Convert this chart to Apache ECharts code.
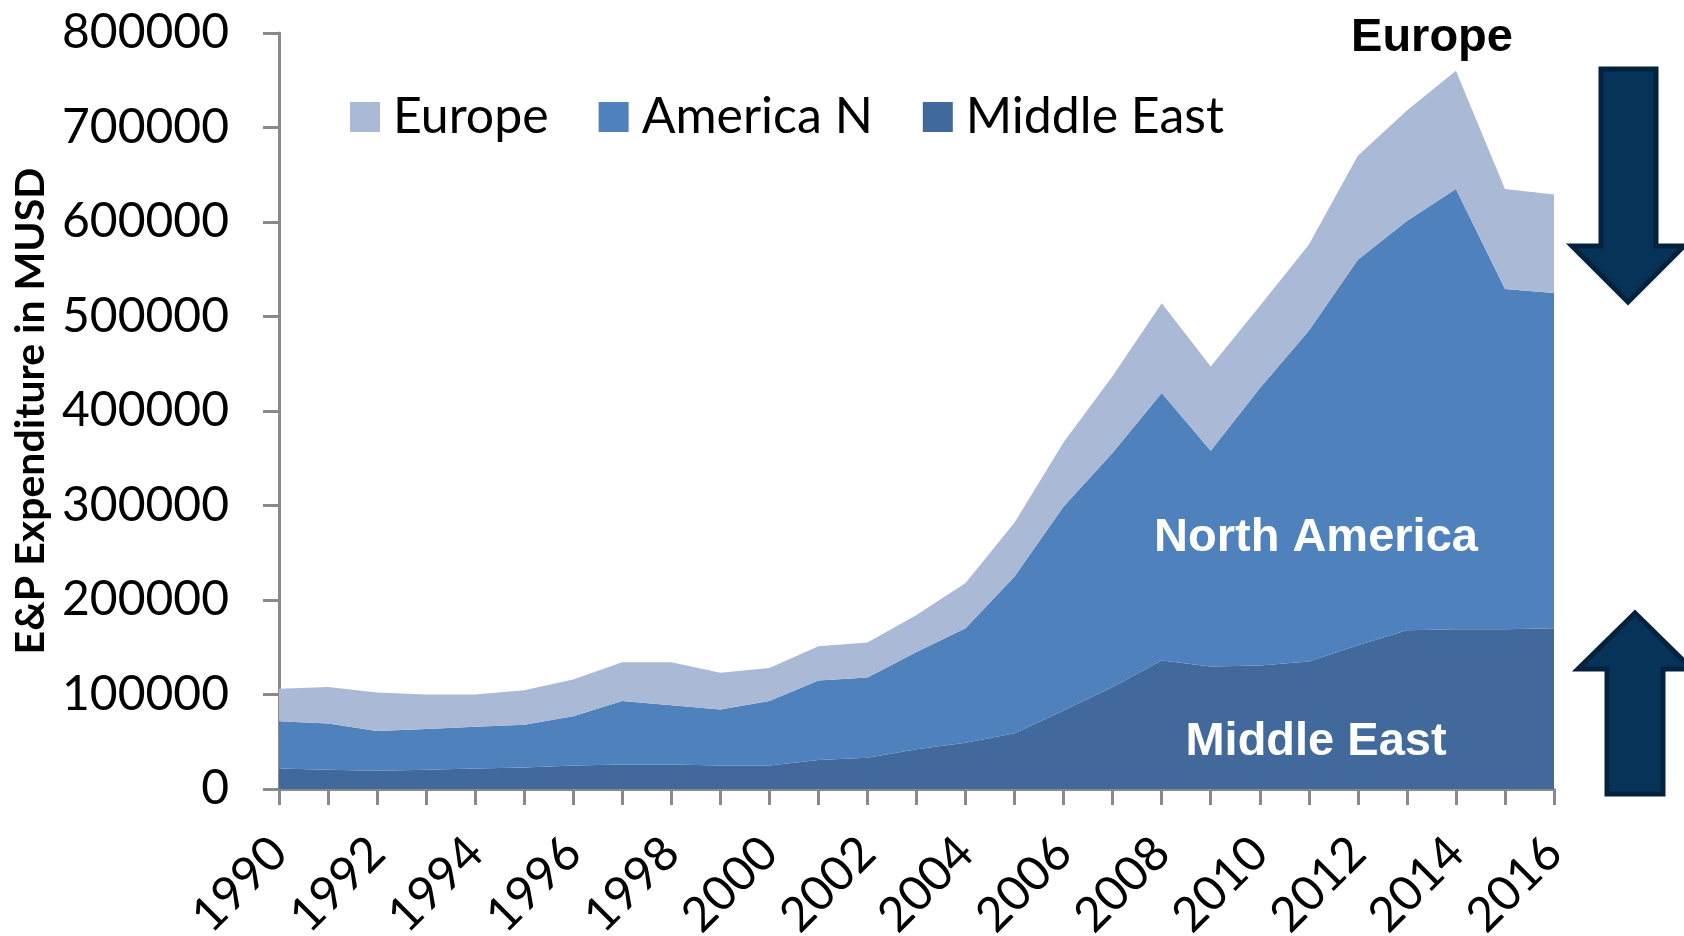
<!DOCTYPE html>
<html>
<head>
<meta charset="utf-8">
<script src="https://cdn.jsdelivr.net/npm/echarts@6/dist/echarts.min.js"></script>
<style>
html,body{margin:0;padding:0;background:#fff;}
#chart{width:1684px;height:936px;}
</style>
</head>
<body>
<div id="chart"></div>
<script>
const years = ['1990','1991','1992','1993','1994','1995','1996','1997','1998','1999','2000','2001','2002','2003','2004','2005','2006','2007','2008','2009','2010','2011','2012','2013','2014','2015','2016'];
const middleEast = [21600,20500,19300,20500,21600,22700,25000,26000,26000,25000,25000,30700,33000,42000,48900,59000,83000,108000,136000,129500,130700,135000,152000,168000,169000,169000,170000];
const americaN = [50000,48800,42100,43100,44400,45300,52000,67000,62600,59000,68000,84100,85000,103000,121100,166000,216000,247700,283000,228500,293300,350000,408000,433000,466000,360000,355000];
const europe = [34400,38700,40600,36400,34000,36500,39000,41000,45400,39000,35000,36200,37000,39000,48000,57000,68000,81300,95000,89000,87000,91000,110000,117000,125000,106000,104000];
const yTicks = [0,100000,200000,300000,400000,500000,600000,700000,800000];

const chart = echarts.init(document.getElementById('chart'), null, {renderer:'canvas'});
const axisGray = '#898989';
const mkSeries = (name, data, color) => ({
  name, type:'line', stack:'total', data,
  showSymbol:false, symbol:'none',
  lineStyle:{width:0},
  areaStyle:{color, opacity:1},
  itemStyle:{color},
  emphasis:{disabled:true},
  animation:false
});
chart.setOption({
  animation:false,
  grid:{left:279,right:130,top:33,bottom:147,containLabel:false,outerBoundsMode:'none'},
  legend:{
    data:['Europe','America N','Middle East'],
    left:345, top:87,
    itemWidth:30, itemHeight:30, itemGap:50,
    icon:'rect',
    textStyle:{fontFamily:'Lato',fontSize:50,color:'#000',padding:[0,0,0,8]}
  },
  xAxis:{
    type:'category', data:years, boundaryGap:false,
    axisLine:{lineStyle:{color:axisGray,width:3}},
    axisTick:{show:true,interval:0,length:16,lineStyle:{color:axisGray,width:3}},
    axisLabel:{interval:1,rotate:45,margin:56,fontFamily:'Lato',fontSize:48,color:'#000'},
    splitLine:{show:false}
  },
  yAxis:{
    type:'value', min:yTicks[0], max:yTicks[yTicks.length-1], interval:100000,
    name:'E&P Expenditure in MUSD', nameLocation:'middle', nameGap:226,
    nameTextStyle:{fontFamily:'Lato',fontWeight:'bold',fontSize:41,color:'#000'},
    axisLine:{show:true,lineStyle:{color:axisGray,width:3}},
    axisTick:{show:true,length:16,lineStyle:{color:axisGray,width:3}},
    axisLabel:{margin:50,fontFamily:'Lato',fontSize:48,color:'#000',formatter:(v)=>String(v)},
    splitLine:{show:false}
  },
  series:[
    mkSeries('Middle East', middleEast, '#41699B'),
    mkSeries('America N', americaN, '#4F81BC'),
    mkSeries('Europe', europe, '#AAB9D6')
  ],
  graphic:[
    {type:'text', x:1432, y:38, style:{text:'Europe', align:'center', verticalAlign:'middle', font:'bold 47px "Liberation Sans"', fill:'#000'}},
    {type:'text', x:1316, y:538, z:10, style:{text:'North America', align:'center', verticalAlign:'middle', font:'bold 47px "Liberation Sans"', fill:'#fff'}},
    {type:'text', x:1316, y:742, z:10, style:{text:'Middle East', align:'center', verticalAlign:'middle', font:'bold 47px "Liberation Sans"', fill:'#fff'}},
    {type:'polygon', z:10, shape:{points:[[1601,69],[1656,69],[1656,246],[1684,246],[1628,302],[1572,246],[1601,246]]}, style:{fill:'#083358',stroke:'#03223d',lineWidth:5}},
    {type:'polygon', z:10, shape:{points:[[1635,613],[1692,669],[1663,669],[1663,794],[1607,794],[1607,669],[1578,669]]}, style:{fill:'#083358',stroke:'#03223d',lineWidth:5}}
  ]
});
</script>
</body>
</html>
